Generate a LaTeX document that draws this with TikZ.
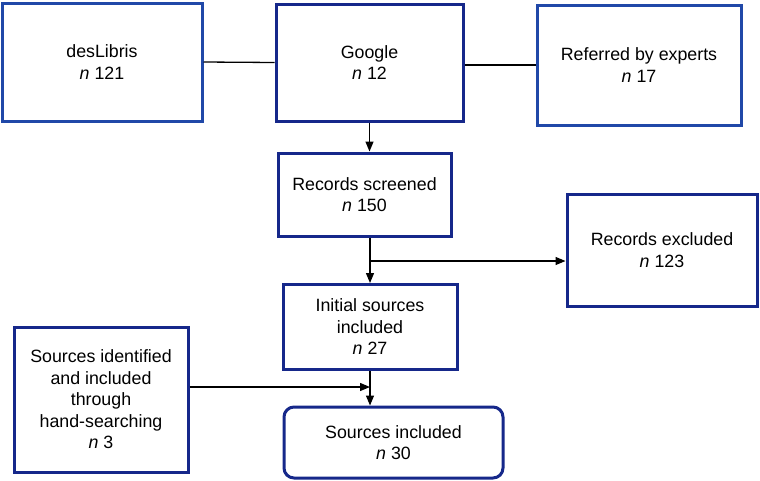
\documentclass[tikz,border=0pt]{standalone}
\usepackage{fontspec}
\setmainfont{Liberation Sans}
\usetikzlibrary{arrows.meta}
\definecolor{lightblue}{RGB}{32,72,168}
\definecolor{navyblue}{RGB}{22,40,138}
\tikzset{
  box/.style={draw=navyblue, line width=3pt, fill=white, align=center, inner sep=2pt,
    font=\fontsize{17.8}{21.5}\selectfont, text=black},
  lbox/.style={box, draw=lightblue},
  conn/.style={line width=1.3pt, black},
  arr/.style={conn, -{Triangle[length=10pt,width=8pt]}}
}
\begin{document}
\begin{tikzpicture}[x=1pt,y=-1pt]
\useasboundingbox (0,0) rectangle (760,480);
\node[lbox, minimum width=200pt, minimum height=118pt] (des) at (102,62) {desLibris\\\textit{n} 121};
\node[box, minimum width=187pt, minimum height=117pt] (google) at (369.5,62.5) {Google\\\textit{n} 12};
\node[lbox, minimum width=204pt, minimum height=120pt] (ref) at (639,65) {Referred by experts\\\textit{n} 17};
\node[box, minimum width=173pt, minimum height=83pt] (scr) at (364.5,194.5) {Records screened\\\textit{n} 150};
\node[box, minimum width=190pt, minimum height=112pt] (exc) at (662,250) {Records excluded\\\textit{n} 123};
\node[box, minimum width=174pt, minimum height=85pt] (ini) at (370,327) {Initial sources\\included\\\textit{n} 27};
\node[box, minimum width=174pt, minimum height=145pt] (hand) at (101,399.5) {Sources identified\\and included\\through\\hand-searching\\\textit{n} 3};
\node[box, rounded corners=10pt, minimum width=219pt, minimum height=71pt] (inc) at (393.5,442.5) {Sources included\\\textit{n} 30};
\coordinate (br) at (370,261);
\coordinate (jn) at (370,387);
\draw[conn] (des.east) -- (google.west);
\draw[conn] (ref.west -| google.east) -- (ref.west);
\draw[arr] (google.south) -- (google.south |- scr.north);
\draw[arr] (scr.south -| ini.north) -- (ini.north);
\draw[arr] (br) -- (br -| exc.west);
\draw[arr] (ini.south) -- (ini.south |- inc.north);
\draw[arr] (jn -| hand.east) -- (jn);
\end{tikzpicture}
\end{document}
